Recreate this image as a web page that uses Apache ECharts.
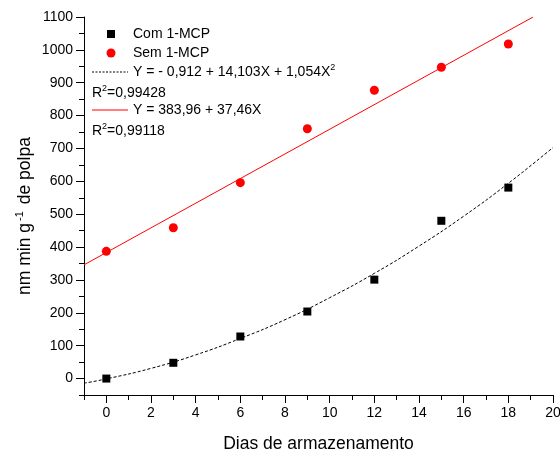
<!DOCTYPE html>
<html><head><meta charset="utf-8">
<script src="https://cdn.jsdelivr.net/npm/echarts@6/dist/echarts.min.js"></script>
<style>html,body{margin:0;padding:0;background:#fff}#c{width:560px;height:450px}</style>
</head><body><div id="c"></div>
<script>
// Data
const days = [0, 3, 6, 9, 12, 15, 18];
const comMCP = [0, 48, 128, 204, 301, 480, 581];
const semMCP = [387, 459, 596, 760, 877, 947, 1018];
// Fitted curves
const fitQuadX = [-1, 0, 2, 4, 6, 8, 10, 12, 14, 16, 18, 20];
const fitQuadY = [-14, -1, 31, 72, 122, 179, 246, 320, 403, 494, 594, 703];
const fitLinX = [-1, 19.11];
const fitLinY = [346, 1100];
// Tick values
const xMajor = [0, 2, 4, 6, 8, 10, 12, 14, 16, 18, 20];
const xMinor = [-1, 1, 3, 5, 7, 9, 11, 13, 15, 17, 19];
const yMajor = [0, 100, 200, 300, 400, 500, 600, 700, 800, 900, 1000, 1100];
const yMinor = [-50, 50, 150, 250, 350, 450, 550, 650, 750, 850, 950, 1050];

const FONT = '"Liberation Sans", Arial, sans-serif';
const zip = (a, b) => a.map((v, i) => [v, b[i]]);

const chart = echarts.init(document.getElementById('c'), null, {renderer: 'canvas'});
const lineStyle = {color: '#000', width: 1};
const supRich = {a: {font: '14px ' + FONT, fill: '#000'}, s: {font: '9px ' + FONT, fill: '#000', padding: [0, 0, 8, 0]}};
chart.setOption({
  animation: false,
  backgroundColor: '#fff',
  grid: {left: 84, right: 7, top: 17, bottom: 55, containLabel: false, outerBoundsMode: 'none'},
  xAxis: [{
    type: 'value', min: -1, max: 20, position: 'bottom',
    name: 'Dias de armazenamento', nameLocation: 'middle', nameGap: 40,
    nameTextStyle: {fontFamily: FONT, fontSize: 17.5, color: '#000'},
    axisLine: {show: true, onZero: false, lineStyle: lineStyle},
    axisTick: {show: true, length: 8, customValues: xMajor, lineStyle: lineStyle},
    axisLabel: {customValues: xMajor, fontFamily: FONT, fontSize: 14, color: '#000', margin: 11,
      formatter: v => String(v)},
    splitLine: {show: false}
  }, {
    type: 'value', min: -1, max: 20, position: 'bottom',
    axisLine: {show: false, onZero: false},
    axisTick: {show: true, length: 5, customValues: xMinor, lineStyle: lineStyle},
    axisLabel: {show: false},
    splitLine: {show: false}
  }],
  yAxis: [{
    type: 'value', min: -50, max: 1100, position: 'left',
    axisLine: {show: true, onZero: false, lineStyle: lineStyle},
    axisTick: {show: true, length: 8, customValues: yMajor, lineStyle: lineStyle},
    axisLabel: {customValues: yMajor, fontFamily: FONT, fontSize: 14, color: '#000', margin: 11,
      formatter: v => String(v)},
    splitLine: {show: false}
  }, {
    type: 'value', min: -50, max: 1100, position: 'left',
    axisLine: {show: false, onZero: false},
    axisTick: {show: true, length: 5, customValues: yMinor, lineStyle: lineStyle},
    axisLabel: {show: false},
    splitLine: {show: false}
  }],
  series: [
    {type: 'line', data: zip(fitQuadX, fitQuadY), smooth: true, symbol: 'none',
     lineStyle: {color: '#000', width: 1, type: [3, 2]}, z: 2},
    {type: 'line', data: zip(fitLinX, fitLinY), symbol: 'none',
     lineStyle: {color: '#ff0000', width: 1}, z: 2},
    {type: 'scatter', name: 'Com 1-MCP', data: zip(days, comMCP), symbol: 'rect', symbolSize: 8,
     itemStyle: {color: '#000', opacity: 1}, z: 3},
    {type: 'scatter', name: 'Sem 1-MCP', data: zip(days, semMCP), symbol: 'circle', symbolSize: 9,
     itemStyle: {color: '#ff0000', opacity: 1}, z: 3}
  ],
  graphic: [
    {type: 'text', x: 25, y: 216, rotation: Math.PI / 2, style: {
      text: '{a|nm min g}{s|-1}{a| de polpa}', align: 'center', verticalAlign: 'middle',
      rich: {a: {font: '17.5px ' + FONT, fill: '#000'}, s: {font: '11px ' + FONT, fill: '#000', padding: [0, 2, 10, 2]}}}},
    {type: 'rect', shape: {x: 107, y: 30, width: 8, height: 8}, style: {fill: '#000'}},
    {type: 'text', x: 133, y: 34, style: {text: 'Com 1-MCP', font: '14px ' + FONT, fill: '#000', verticalAlign: 'middle'}},
    {type: 'circle', shape: {cx: 111, cy: 53, r: 4.5}, style: {fill: '#ff0000'}},
    {type: 'text', x: 133, y: 53, style: {text: 'Sem 1-MCP', font: '14px ' + FONT, fill: '#000', verticalAlign: 'middle'}},
    {type: 'line', shape: {x1: 92, y1: 72, x2: 128, y2: 72}, style: {stroke: '#000', lineWidth: 1, lineDash: [2, 1.5]}},
    {type: 'text', x: 133, y: 72, style: {
      text: '{a|Y = - 0,912 + 14,103X + 1,054X}{s|2}', verticalAlign: 'middle', rich: supRich}},
    {type: 'text', x: 92, y: 93, style: {
      text: '{a|R}{s|2}{a|=0,99428}', verticalAlign: 'middle', rich: supRich}},
    {type: 'line', shape: {x1: 92, y1: 110, x2: 128, y2: 110}, style: {stroke: '#ff0000', lineWidth: 1}},
    {type: 'text', x: 133, y: 110, style: {text: 'Y = 383,96 + 37,46X', font: '14px ' + FONT, fill: '#000', verticalAlign: 'middle'}},
    {type: 'text', x: 92, y: 131, style: {
      text: '{a|R}{s|2}{a|=0,99118}', verticalAlign: 'middle', rich: supRich}}
  ]
});
</script></body></html>
